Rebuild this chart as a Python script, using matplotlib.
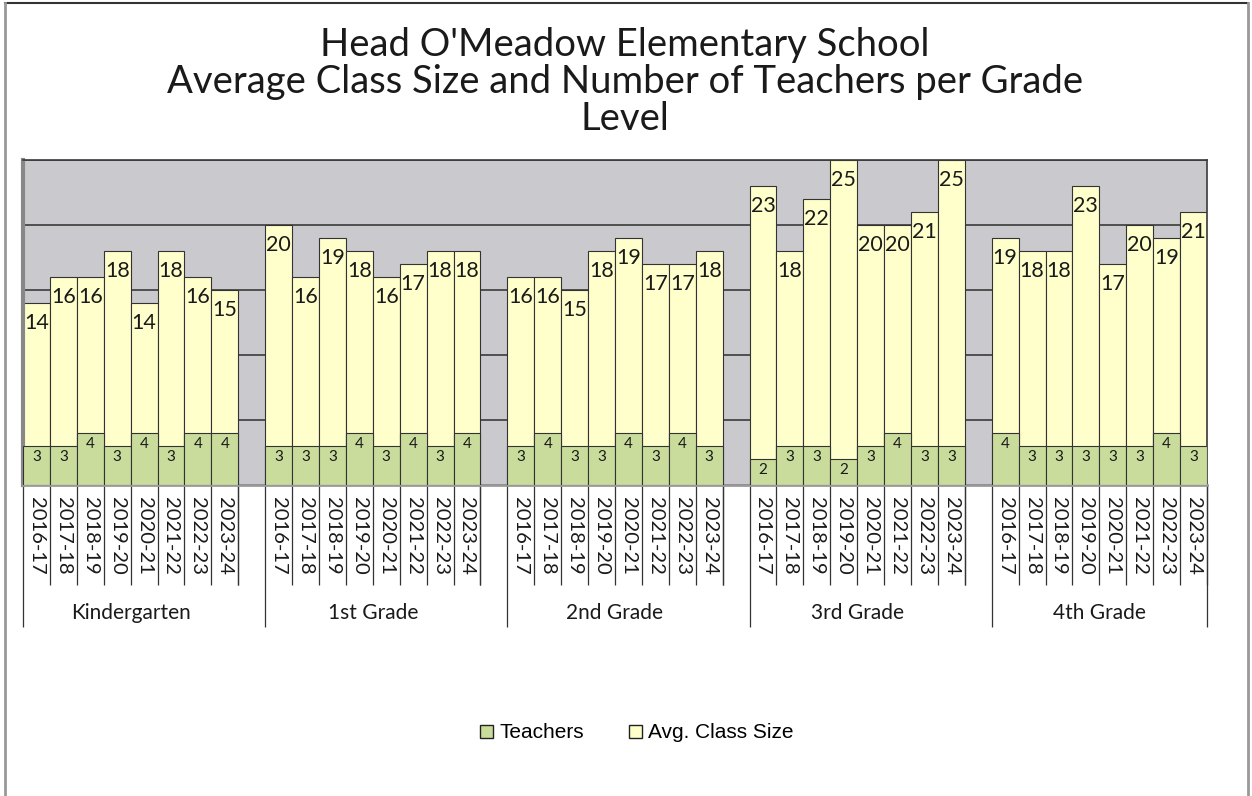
import matplotlib.pyplot as plt
from matplotlib.patches import Patch
from matplotlib.lines import Line2D

plt.rcParams['font.family'] = ['Lato', 'DejaVu Sans']

grades = ['Kindergarten', '1st Grade', '2nd Grade', '3rd Grade', '4th Grade']
years = ['2016-17', '2017-18', '2018-19', '2019-20',
         '2020-21', '2021-22', '2022-23', '2023-24']

class_size = [
    [14, 16, 16, 18, 14, 18, 16, 15],
    [20, 16, 19, 18, 16, 17, 18, 18],
    [16, 16, 15, 18, 19, 17, 17, 18],
    [23, 18, 22, 25, 20, 20, 21, 25],
    [19, 18, 18, 23, 17, 20, 19, 21],
]
teachers = [
    [3, 3, 4, 3, 4, 3, 4, 4],
    [3, 3, 3, 4, 3, 4, 3, 4],
    [3, 4, 3, 3, 4, 3, 4, 3],
    [2, 3, 3, 2, 3, 4, 3, 3],
    [4, 3, 3, 3, 3, 3, 4, 3],
]

YELLOW = '#ffffcc'
GREEN = '#c9dc9b'
GRAY = '#cacace'
EDGE = '#333333'
TXT = '#1a1a1a'

W, H = 1252, 796
fig = plt.figure(figsize=(W / 100, H / 100), dpi=100)

# outer chart border
fig.add_artist(Line2D([5 / W, 1248 / W], [1 - 3 / H, 1 - 3 / H], color='#333333', lw=1.5))
fig.add_artist(Line2D([5 / W, 5 / W], [0, 1 - 3 / H], color='#999999', lw=2))
fig.add_artist(Line2D([1248 / W, 1248 / W], [0, 1 - 3 / H], color='#999999', lw=2))

ax = fig.add_axes([23 / W, (H - 485) / H, 1184 / W, 325 / H])
ax.set_facecolor(GRAY)

n_years = len(years)
step = n_years + 1
for g in range(len(grades)):
    xs = [g * step + j for j in range(n_years)]
    ax.bar(xs, class_size[g], width=1, align='edge', color=YELLOW,
           edgecolor=EDGE, linewidth=0.8, zorder=2)
    ax.bar(xs, teachers[g], width=1, align='edge', color=GREEN,
           edgecolor=EDGE, linewidth=0.8, zorder=3)
    for x, c, t in zip(xs, class_size[g], teachers[g]):
        ax.annotate(str(c), (x + 0.5, c), xytext=(0, -7), textcoords='offset points',
                    ha='center', va='top', fontsize=15.5, color=TXT, zorder=4)
        ax.annotate(str(t), (x + 0.5, t), xytext=(0, -3), textcoords='offset points',
                    ha='center', va='top', fontsize=11, color=TXT, zorder=4)
        # category labels under the axis
        ax.text(x + 0.5, -0.9, years[x - g * step], rotation=270, ha='center', va='top',
                fontsize=14.5, color=TXT, clip_on=False)
        ax.vlines(x + 1, -7.7, 0, color=EDGE, lw=0.9, clip_on=False)
    ax.vlines(g * step, -10.9, 0, color=EDGE, lw=0.9, clip_on=False)
    ax.vlines(g * step + n_years, -10.9 if g == len(grades) - 1 else -7.7, 0,
              color=EDGE, lw=0.9, clip_on=False)
    ax.text(g * step + n_years / 2, -9.85, grades[g], ha='center', va='center',
            fontsize=15, color=TXT, clip_on=False)

ax.set_xlim(0, len(grades) * step - 1)
ax.set_ylim(0, 25)
ax.set_yticks([0, 5, 10, 15, 20, 25])
ax.set_xticks([])
ax.tick_params(axis='y', length=0, labelleft=False)
ax.set_axisbelow(True)
ax.grid(axis='y', color='#3a3a3a', lw=1.2)
for s in ['top', 'right']:
    ax.spines[s].set_color('#3a3a3a')
    ax.spines[s].set_linewidth(1.2)
ax.spines['left'].set_color('#888888')
ax.spines['left'].set_linewidth(3)
ax.spines['bottom'].set_color('#999999')
ax.spines['bottom'].set_linewidth(2)

fig.text(625 / W, 1 - 82 / H,
         "Head O'Meadow Elementary School\n"
         "Average Class Size and Number of Teachers per Grade\n"
         "Level",
         ha='center', va='center', fontsize=27.5, color=TXT, linespacing=1.05)

handles = [Patch(facecolor=GREEN, edgecolor='#222222', label='Teachers'),
           Patch(facecolor=YELLOW, edgecolor='#222222', label='Avg. Class Size')]
fig.legend(handles=handles, loc='center', bbox_to_anchor=(637 / W, 1 - 733 / H),
           ncol=2, frameon=False, handlelength=0.6, handleheight=0.6,
           handletextpad=0.3, columnspacing=2.2,
           prop={'family': 'Liberation Sans', 'size': 15})

fig.savefig('out.png', dpi=100)
